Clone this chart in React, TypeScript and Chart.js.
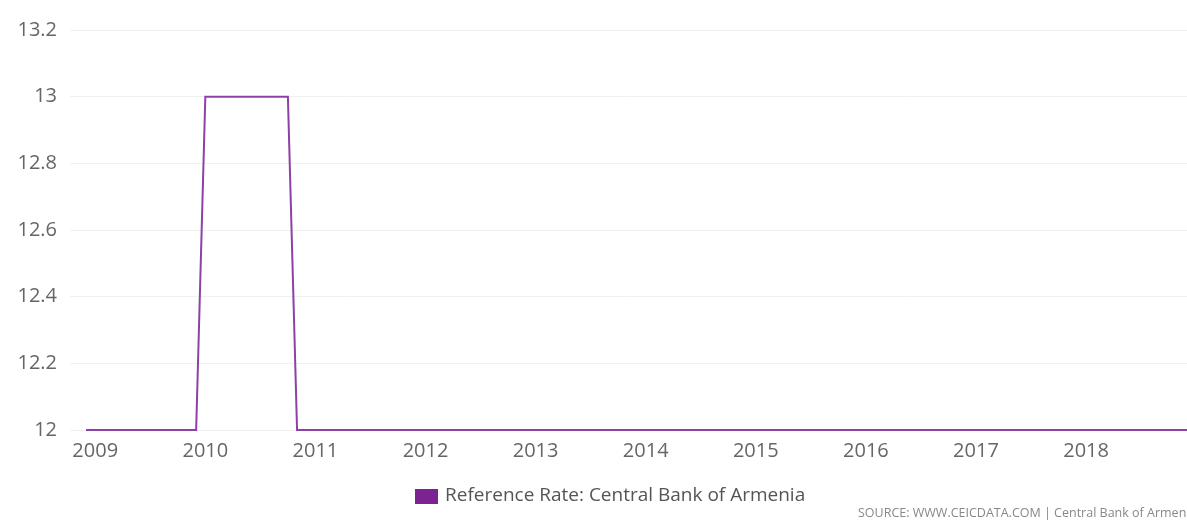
import React, { useEffect, useRef } from "react";
import { Chart, registerables } from "chart.js";

Chart.register(...registerables);

// Monthly reference rate (%), Dec 2008 .. Dec 2018
const rate2008Dec = [12];
const rate2009 = [12, 12, 12, 12, 12, 12, 12, 12, 12, 12, 12, 12];
const rate2010 = [13, 13, 13, 13, 13, 13, 13, 13, 13, 13, 12, 12];
const rate2011 = [12, 12, 12, 12, 12, 12, 12, 12, 12, 12, 12, 12];
const rate2012 = [12, 12, 12, 12, 12, 12, 12, 12, 12, 12, 12, 12];
const rate2013 = [12, 12, 12, 12, 12, 12, 12, 12, 12, 12, 12, 12];
const rate2014 = [12, 12, 12, 12, 12, 12, 12, 12, 12, 12, 12, 12];
const rate2015 = [12, 12, 12, 12, 12, 12, 12, 12, 12, 12, 12, 12];
const rate2016 = [12, 12, 12, 12, 12, 12, 12, 12, 12, 12, 12, 12];
const rate2017 = [12, 12, 12, 12, 12, 12, 12, 12, 12, 12, 12, 12];
const rate2018 = [12, 12, 12, 12, 12, 12, 12, 12, 12, 12, 12, 12];

const yearLabels = ["2009", "2010", "2011", "2012", "2013", "2014", "2015", "2016", "2017", "2018"];
const yTickValues = [12, 12.2, 12.4, 12.6, 12.8, 13, 13.2];

const seriesLabel = "Reference Rate: Central Bank of Armenia";
const sourceText = "SOURCE: WWW.CEICDATA.COM | Central Bank of Armenia";

const allRates = [
  ...rate2008Dec, ...rate2009, ...rate2010, ...rate2011, ...rate2012, ...rate2013,
  ...rate2014, ...rate2015, ...rate2016, ...rate2017, ...rate2018,
];

export default function App() {
  const ref = useRef<HTMLCanvasElement | null>(null);

  useEffect(() => {
    document.body.style.margin = "0";
    const canvas = ref.current;
    if (!canvas) return;

    const points = allRates.map((v, i) => ({ x: i, y: v }));
    // index 0 = Dec 2008, index 1 = Jan 2009
    const yearTickPositions = yearLabels.map((_, i) => 1 + i * 12);

    const legendPlugin = {
      id: "customLegend",
      afterDraw(chart: any) {
        const ctx = chart.ctx;
        ctx.save();
        ctx.fillStyle = "#7b2491";
        ctx.fillRect(415, 489, 23, 15);
        ctx.fillStyle = "#555";
        ctx.font = "19px 'Open Sans'";
        ctx.textBaseline = "middle";
        ctx.textAlign = "left";
        ctx.fillText(chart.data.datasets[0].label, 445, 496);
        ctx.fillStyle = "#888";
        ctx.font = "12.5px 'Open Sans'";
        ctx.fillText(sourceText, 858, 513);
        ctx.restore();
      },
    };

    const chart = new Chart(canvas, {
      type: "line",
      data: {
        datasets: [
          {
            label: seriesLabel,
            data: points,
            borderColor: "#8e3fa9",
            backgroundColor: "#7b2491",
            borderWidth: 2,
            pointRadius: 0,
            tension: 0,
            fill: false,
            clip: false,
          },
        ],
      },
      options: {
        animation: false,
        responsive: false,
        maintainAspectRatio: false,
        layout: { padding: { top: 30, right: 0, bottom: 0, left: 0 } },
        plugins: {
          legend: { display: false },
          tooltip: { enabled: false },
        },
        scales: {
          x: {
            type: "linear",
            min: -1.75,
            max: 120,
            grid: { display: false },
            border: { display: false },
            afterBuildTicks(scale: any) {
              scale.ticks = yearTickPositions.map((v) => ({ value: v }));
            },
            afterFit(scale: any) {
              scale.height = 91;
            },
            ticks: {
              autoSkip: false,
              maxRotation: 0,
              padding: 1,
              color: "#666",
              font: { family: "'Open Sans'", size: 20 },
              callback: (v: any) => {
                const idx = yearTickPositions.indexOf(Number(v));
                return idx >= 0 ? yearLabels[idx] : "";
              },
            },
          },
          y: {
            min: 12,
            max: 13.2,
            grid: { color: "#f0f0f0", lineWidth: 1, drawTicks: false },
            border: { display: false },
            afterBuildTicks(scale: any) {
              scale.ticks = yTickValues.map((v) => ({ value: v }));
            },
            afterFit(scale: any) {
              scale.width = 70;
            },
            ticks: {
              padding: 13,
              color: "#666",
              font: { family: "'Open Sans'", size: 20 },
              callback: (v: any) => String(Number(Number(v).toFixed(1))),
            },
          },
        },
      },
      plugins: [legendPlugin],
    });

    return () => chart.destroy();
  }, []);

  return (
    <div style={{ position: "relative", width: 1187, height: 521 }}>
      <canvas ref={ref} width={1187} height={521} style={{ display: "block", width: 1187, height: 521 }} />
    </div>
  );
}
